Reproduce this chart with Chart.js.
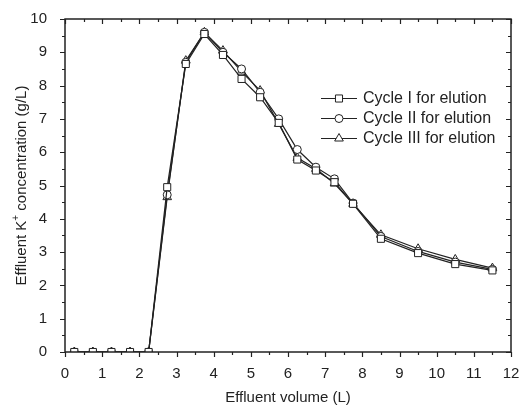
<!DOCTYPE html>
<html>
<head>
<meta charset="utf-8">
<script src="https://cdn.jsdelivr.net/npm/chart.js@4.4.0/dist/chart.umd.min.js"></script>
<style>
  html, body { margin: 0; padding: 0; background: #fff; }
  #wrap { width: 532px; height: 407px; }
</style>
</head>
<body>
<div id="wrap"><canvas id="myChart"></canvas></div>
<script>
// effluent volume (L) and K+ concentration (g/L) for three elution cycles
var volume = [0.25, 0.75, 1.25, 1.75, 2.25, 2.75, 3.25, 3.75, 4.25, 4.75, 5.25, 5.75, 6.25, 6.75, 7.25, 7.75, 8.5, 9.5, 10.5, 11.5];
var cycle1 = [0, 0, 0, 0, 0, 4.95, 8.65, 9.55, 8.92, 8.2, 7.65, 6.88, 5.78, 5.45, 5.1, 4.45, 3.4, 2.97, 2.64, 2.45];
var cycle2 = [0, 0, 0, 0, 0, 4.72, 8.7, 9.6, 9.0, 8.5, 7.8, 7.0, 6.08, 5.55, 5.2, 4.47, 3.47, 3.02, 2.7, 2.48];
var cycle3 = [0, 0, 0, 0, 0, 4.65, 8.75, 9.6, 9.05, 8.42, 7.85, 6.85, 5.83, 5.5, 5.06, 4.45, 3.52, 3.1, 2.78, 2.52];
var seriesNames = ["Cycle I for elution", "Cycle II for elution", "Cycle III for elution"];
var xTicks = { min: 0, max: 12, step: 1 };
var yTicks = { min: 0, max: 10, step: 1 };

var INK = '#222';
var FONT = '"Liberation Sans", Arial, sans-serif';

function pts(ys) {
    return volume.map(function (v, i) { return { x: v, y: ys[i] }; });
}

function series(label, ys, style, r) {
    return {
        label: label,
        data: pts(ys),
        borderColor: INK,
        borderWidth: 1.2,
        pointStyle: style,
        pointRadius: r,
        pointHoverRadius: r,
        pointBorderColor: INK,
        pointBackgroundColor: '#fff',
        pointBorderWidth: 1,
        tension: 0,
        clip: 0
    };
}

// frame, ticks (outer on bottom/left, inner on top/right), titles and legend
var decor = {
    id: 'decor',
    afterDatasetsDraw: function (chart) {
        var ctx = chart.ctx, a = chart.chartArea;
        var xs = chart.scales.x, ys = chart.scales.y;
        ctx.save();
        ctx.strokeStyle = INK;
        ctx.lineWidth = 1.5;
        ctx.strokeRect(a.left, a.top, a.right - a.left, a.bottom - a.top);

        ctx.lineWidth = 1.2;
        ctx.beginPath();
        for (var v = xTicks.min; v <= xTicks.max + 1e-9; v += 0.5) {
            var px = Math.round(xs.getPixelForValue(v)) + 0.5;
            var len = (Math.abs(v - Math.round(v)) < 1e-9) ? 5 : 3;
            ctx.moveTo(px, a.bottom); ctx.lineTo(px, a.bottom + len);
            ctx.moveTo(px, a.top); ctx.lineTo(px, a.top + len);
        }
        for (var w = yTicks.min; w <= yTicks.max + 1e-9; w += 0.5) {
            var py = Math.round(ys.getPixelForValue(w)) + 0.5;
            var l2 = (Math.abs(w - Math.round(w)) < 1e-9) ? 5 : 3;
            ctx.moveTo(a.left, py); ctx.lineTo(a.left - l2, py);
            ctx.moveTo(a.right, py); ctx.lineTo(a.right - l2, py);
        }
        ctx.stroke();

        // axis titles
        ctx.fillStyle = INK;
        ctx.font = '15px ' + FONT;
        ctx.textAlign = 'center';
        ctx.textBaseline = 'middle';
        ctx.fillText('Effluent volume (L)', (a.left + a.right) / 2, a.bottom + 46);

        var p1 = 'Effluent K', sup = '+', p2 = ' concentration (g/L)';
        ctx.font = '15px ' + FONT;
        var w1 = ctx.measureText(p1).width, w3 = ctx.measureText(p2).width;
        ctx.font = '10px ' + FONT;
        var w2 = ctx.measureText(sup).width;
        var total = w1 + w2 + w3;
        ctx.translate(22, (a.top + a.bottom) / 2);
        ctx.rotate(-Math.PI / 2);
        ctx.textAlign = 'left';
        ctx.font = '15px ' + FONT;
        ctx.fillText(p1, -total / 2, 0);
        ctx.font = '10px ' + FONT;
        ctx.fillText(sup, -total / 2 + w1, -6);
        ctx.font = '15px ' + FONT;
        ctx.fillText(p2, -total / 2 + w1 + w2, 0);
        ctx.setTransform(1, 0, 0, 1, 0, 0);

        // legend inside the plot
        chart.data.datasets.forEach(function (ds, i) {
            var y = 98 + 20 * i;
            ctx.strokeStyle = INK;
            ctx.lineWidth = 1;
            ctx.beginPath();
            ctx.moveTo(321, y + 0.5); ctx.lineTo(357, y + 0.5);
            ctx.stroke();
            ctx.fillStyle = '#fff';
            ctx.strokeStyle = INK;
            Chart.helpers.drawPoint(ctx, { pointStyle: ds.pointStyle, radius: ds.pointRadius, borderWidth: 1 }, 339, y + 0.5);
            ctx.fillStyle = INK;
            ctx.font = '16px ' + FONT;
            ctx.textAlign = 'left';
            ctx.textBaseline = 'middle';
            ctx.fillText(ds.label, 363, y + 1);
        });
        ctx.restore();
    }
};

var myChart = new Chart(document.getElementById('myChart'), {
    type: 'line',
    data: {
        datasets: [
            series(seriesNames[0], cycle1, 'rect', 5),
            series(seriesNames[1], cycle2, 'circle', 4),
            series(seriesNames[2], cycle3, 'triangle', 5)
        ]
    },
    options: {
        responsive: true,
        maintainAspectRatio: false,
        animation: false,
        layout: { padding: { top: 16, right: 21, left: 0, bottom: 0 } },
        plugins: {
            legend: { display: false },
            tooltip: { enabled: false }
        },
        scales: {
            x: {
                type: 'linear',
                min: xTicks.min,
                max: xTicks.max,
                grid: { display: false },
                border: { display: false },
                ticks: {
                    stepSize: xTicks.step,
                    color: INK,
                    font: { family: FONT, size: 15 },
                    padding: 5,
                    maxRotation: 0
                },
                afterFit: function (s) { s.height = 55; }
            },
            y: {
                min: yTicks.min,
                max: yTicks.max,
                grid: { display: false },
                border: { display: false },
                ticks: {
                    stepSize: yTicks.step,
                    color: INK,
                    font: { family: FONT, size: 15 },
                    padding: 10
                },
                afterFit: function (s) { s.width = 65; }
            }
        }
    },
    plugins: [decor]
});
</script>
</body>
</html>
